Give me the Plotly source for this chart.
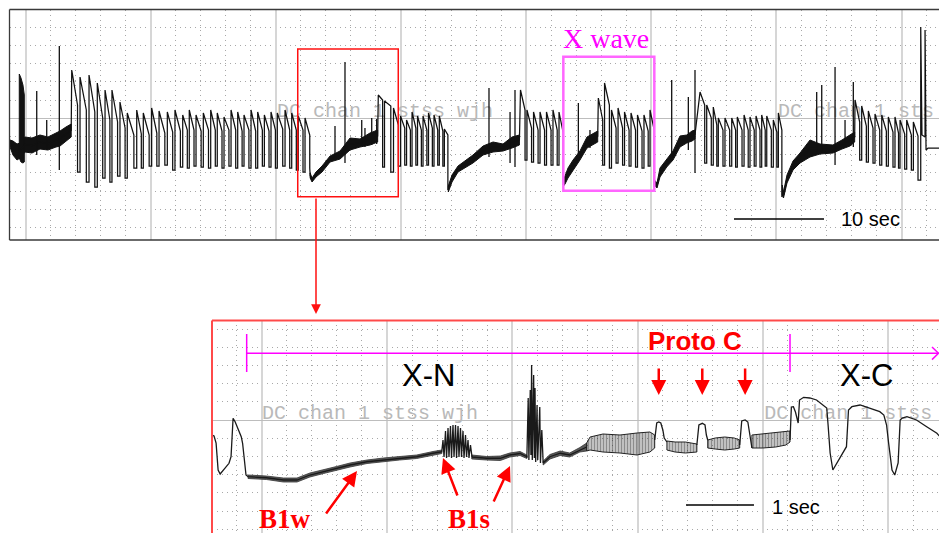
import plotly.graph_objects as go

# ============================ DATA ============================
# ---- Top recording: time in s, signal in V (arbitrary offset) ----
# Noisy (thick) stretches, given as signal envelope
nA_t  = [0.0, 0.33, 0.78, 1.11, 1.67, 2.44, 3.33, 4.22, 5.11, 5.56, 6.22, 6.8]
nA_hi = [1.0, 0.9, 0.6, 0.7, 1.3, 1.2, 1.5, 1.3, 1.7, 1.9, 2.3, 2.6]
nA_lo = [0.3, -0.5, -1.0, -0.8, -0.2, -0.3, 0.1, 0.0, 0.3, 0.4, 0.9, 1.3]
nA2_t  = [1.03, 1.22, 1.44, 1.59]
nA2_hi = [7.6, 7.2, 6.5, 5.5]
nA2_lo = [-0.8, -1.2, -1.3, -1.2]
nB_t  = [33.35, 33.56, 34.0, 34.67, 35.56, 36.67, 37.78, 38.89, 40.0, 40.85]
nB_hi = [-2.3, -2.8, -2.2, -1.6, -0.6, -0.1, 1.2, 1.1, 1.7, 2.0]
nB_lo = [-2.8, -3.2, -2.7, -2.2, -1.2, -0.9, 0.0, 0.3, 0.5, 0.8]
nC_t  = [48.7, 49.11, 49.78, 50.56, 51.44, 52.56, 53.67, 54.78, 55.78, 56.6]
nC_hi = [-3.6, -2.5, -1.6, -1.1, -0.5, 0.4, 0.8, 0.6, 1.3, 1.5]
nC_lo = [-4.2, -3.2, -2.2, -1.8, -1.3, -0.5, -0.2, -0.1, 0.2, 0.5]
nD_t  = [61.5, 61.67, 62.0, 62.56, 63.33, 64.11, 64.78, 65.3]
nD_hi = [-3.0, -2.6, -1.8, -1.0, -0.1, 1.3, 1.6, 1.9]
nD_lo = [-3.6, -3.4, -2.8, -2.0, -1.0, 0.2, 0.5, 0.8]
nE_t  = [71.6, 71.89, 72.22, 72.97, 73.67, 74.44, 75.19, 75.78, 76.11]
nE_hi = [-3.0, -3.3, -1.8, -0.9, -0.1, 1.4, 1.5, 1.9, 2.0]
nE_lo = [-3.5, -3.8, -2.7, -1.7, -1.0, 0.3, 0.7, 0.9, 1.1]
nF_t  = [85.8, 85.94, 86.33, 87.0, 87.78, 88.89, 90.0, 91.44, 92.44, 93.33, 93.85]
nF_hi = [-3.5, -4.2, -2.5, -1.1, -0.3, 1.0, 0.6, 0.5, 1.0, 1.5, 1.8]
nF_lo = [-4.5, -4.8, -3.3, -2.0, -1.3, -0.7, -0.4, -0.3, 0.1, 0.4, 0.8]

# Sawtooth (X-wave) bursts: rise time, peak, shoulder before drop, trough
b1_t  = [6.86, 7.78, 8.78, 9.70, 10.56, 11.33, 12.22, 13.03, 14.08, 14.81, 15.74, 16.56, 17.48, 18.33, 19.19, 19.92, 20.67,
         21.48, 22.30, 23.03, 23.78, 24.56, 25.30, 26.00, 26.78, 27.52, 28.26, 29.00, 29.70, 30.56, 31.30, 32.03, 32.78]
b1_hi = [8.0, 7.3, 7.5, 6.7, 6.0, 6.0, 4.8, 3.7, 4.0, 3.7, 4.2, 3.9, 3.8, 4.0, 3.5, 4.0, 3.5, 3.7, 4.0, 3.7,
         3.3, 4.0, 3.8, 3.5, 4.0, 3.8, 3.5, 3.8, 3.7, 4.0, 3.7, 3.4, 3.2]
b1_sh = [4.5, 4.0, 3.8, 3.2, 3.0, 2.8, 2.2, 1.5, 1.6, 1.5, 1.7, 1.7, 1.8, 1.9, 2.0, 2.0, 1.9, 2.0, 2.0, 1.9,
         2.0, 2.0, 1.9, 2.0, 1.9, 2.0, 1.9, 2.0, 2.1, 2.0, 2.0, 2.0, 1.5]
b1_lo = [-2.2, -3.2, -3.7, -2.8, -3.2, -2.6, -2.8, -1.8, -1.8, -1.6, -1.6, -1.5, -2.0, -1.7, -1.8, -1.6, -1.7, -1.8, -1.6, -1.8,
         -1.6, -1.8, -1.6, -1.8, -1.8, -1.6, -1.7, -1.8, -1.6, -1.8, -2.0, -2.2, -1.8]
b2_t  = [40.92, 41.61, 42.61, 43.39, 44.06, 44.67, 45.28, 45.89, 46.5, 47.11, 47.7, 48.26]
b2_hi = [5.5, 4.9, 4.2, 3.4, 3.0, 3.8, 3.4, 3.4, 3.7, 3.5, 3.4, 2.1]
b2_sh = [5.0, 4.4, 2.5, 2.2, 2.0, 2.2, 2.0, 2.0, 2.2, 2.0, 1.9, 1.5]
b2_lo = [-1.7, -2.2, -1.6, -1.5, -1.6, -1.5, -1.6, -1.5, -1.6, -1.5, -1.6, -4.0]
b3_t  = [56.72, 57.44, 58.17, 58.89, 59.61, 60.33, 61.0]
b3_hi = [6.0, 4.0, 3.8, 3.8, 3.8, 4.0, 3.8]
b3_sh = [4.0, 2.2, 2.0, 2.0, 2.0, 2.0, 1.7]
b3_lo = [-1.0, -1.2, -1.3, -1.5, -1.5, -1.5, -3.5]
b4_t  = [65.37, 66.06, 66.83, 67.56, 68.28, 69.0, 69.72, 70.44, 71.11]
b4_hi = [5.2, 6.7, 4.0, 4.2, 3.8, 3.7, 3.5, 3.5, 4.0]
b4_sh = [3.0, 4.5, 2.2, 2.2, 2.0, 2.0, 1.9, 1.9, 2.0]
b4_lo = [-1.5, -1.8, -1.3, -1.5, -1.6, -1.7, -1.8, -1.6, -3.7]
b5_t  = [76.67, 77.41, 78.14, 78.7, 79.44, 80.19, 80.81, 81.56, 82.22, 82.89, 83.52, 84.08, 84.81, 85.37]
b5_hi = [5.8, 4.5, 4.3, 3.2, 3.2, 3.2, 3.3, 3.5, 3.3, 3.4, 3.5, 3.4, 3.0, 3.7]
b5_sh = [4.5, 3.2, 2.5, 2.0, 2.0, 2.0, 2.0, 2.0, 2.0, 2.0, 2.0, 2.0, 1.8, 2.0]
b5_lo = [-1.3, -1.5, -1.6, -1.6, -1.6, -1.7, -1.6, -1.7, -1.6, -1.7, -1.6, -1.7, -1.7, -4.7]
b6_t  = [93.89, 94.63, 95.37, 96.11, 96.86, 97.59, 98.33, 98.89, 99.63, 100.37]
b6_hi = [5.0, 4.4, 3.9, 3.6, 3.5, 3.3, 3.3, 3.0, 3.0, 2.8]
b6_sh = [2.8, 2.4, 2.2, 2.0, 1.9, 1.8, 1.7, 1.6, 1.5, 1.4]
b6_lo = [-1.0, -1.2, -1.3, -1.5, -1.6, -1.7, -1.8, -1.9, -2.0, -3.0]
tail_t = [101.19, 101.19, 101.33, 101.67, 101.67, 101.78, 102.0, 103.3]
tail_v = [-3.0, 12.3, 1.5, 1.3, 12.0, 0.0, 0.2, 0.2]

# Isolated spikes in the noisy stretches
spk_t  = [2.97, 4.08, 5.48, 36.11, 37.22, 39.08, 39.44, 40.19, 40.74, 53.22, 55.56, 56.11, 63.15, 64.44,
          73.52, 75.37, 76.11, 89.63, 90.19, 91.67, 92.78, 93.7]
spk_hi = [5.9, 3.0, 10.4, 2.4, 8.8, 3.0, 2.2, 3.2, 3.1, 6.2, 3.8, 6.0, 4.7, 2.0, 7.0, 5.3, 8.0, 5.8, 6.5, 8.3, 3.0, 6.8]
spk_lo = [-0.5, 0.0, -2.0, -0.6, -1.3, 0.5, 0.3, 0.5, 0.6, -0.7, -1.3, -1.7, -0.7, 0.2, -0.7, 0.0, -2.3, -0.3, -0.3, -1.5, 0.5, 0.3]

# ---- Bottom (expanded) recording ----
s0_t = [0, 0.03, 0.06, 0.09, 0.12, 0.17, 0.22, 0.25, 0.28, 0.30, 0.31, 0.34, 0.36, 0.40, 0.43, 0.45, 0.48, 0.5, 0.53]
s0_v = [3.5, 3.4, 2.7, 0.0, -0.4, 0.0, 0.33, 0.67, 1.33, 4.83, 5.17, 4.83, 4.5, 4.0, 3.33, 2.67, 1.0, -0.5, -0.67]
bw_t  = [0.53, 0.80, 1.05, 1.25, 1.44, 1.64, 1.83, 2.03, 2.28, 2.52, 2.76, 3.01, 3.25, 3.38]
bw_hi = [-0.5, -0.6, -0.8, -0.8, -0.3, 0.0, 0.35, 0.7, 1.0, 1.2, 1.35, 1.5, 1.85, 2.0]
bw_lo = [-0.85, -0.95, -1.2, -1.2, -0.7, -0.35, 0.0, 0.3, 0.65, 0.8, 1.0, 1.15, 1.5, 1.65]
bs_t = [3.378, 3.397, 3.412, 3.434, 3.449, 3.471, 3.485, 3.507, 3.522, 3.544, 3.559, 3.581, 3.596,
        3.618, 3.632, 3.654, 3.669, 3.691, 3.706, 3.728, 3.743, 3.765, 3.779, 3.801, 3.824]
bs_v = [1.8, 3.0, 1.3, 3.9, 1.2, 4.2, 1.3, 4.4, 1.2, 4.5, 1.3, 4.5, 1.2, 4.4, 1.3, 4.2, 1.3, 3.9, 1.2, 3.5,
        1.3, 3.0, 1.2, 2.5, 1.3]
r2_t  = [3.82, 4.04, 4.24, 4.38, 4.53, 4.63]
r2_hi = [1.5, 1.35, 1.4, 1.7, 1.85, 1.5]
r2_lo = [1.1, 1.0, 0.95, 1.3, 1.45, 1.15]
pk_t = [4.63, 4.65, 4.66, 4.68, 4.69, 4.70, 4.71, 4.73, 4.74, 4.75, 4.76, 4.78, 4.79, 4.82, 4.83, 4.85, 4.87]
pk_v = [1.2, 7.2, 1.0, 8.0, 1.5, 10.5, 1.0, 9.5, 1.2, 8.2, 0.8, 6.5, 1.0, 6.3, 0.7, 4.0, 0.7]
r3_t  = [4.87, 4.97, 5.12, 5.26, 5.41, 5.51]
r3_hi = [0.9, 1.55, 1.9, 1.7, 2.25, 2.7]
r3_lo = [0.5, 1.1, 1.45, 1.3, 1.8, 1.9]
r4_t  = [5.51, 5.56, 5.75, 6.0, 6.25, 6.44, 6.51]
r4_hi = [2.7, 3.3, 3.6, 3.5, 3.7, 3.8, 3.5]
r4_lo = [1.9, 2.0, 1.8, 1.7, 1.5, 1.8, 2.2]
c1_t = [6.51, 6.54, 6.57, 6.60, 6.63, 6.65, 6.69]
c1_v = [3.0, 4.7, 4.8, 4.7, 4.0, 3.2, 2.8]
r5_t  = [6.69, 6.81, 6.96, 7.13]
r5_hi = [2.9, 2.8, 2.8, 2.6]
r5_lo = [2.0, 1.8, 1.7, 1.8]
c2_t = [7.13, 7.16, 7.21, 7.25, 7.27, 7.29]
c2_v = [2.5, 4.5, 4.67, 4.5, 3.5, 3.0]
r6_t  = [7.29, 7.40, 7.54, 7.68, 7.76]
r6_hi = [3.0, 3.2, 3.3, 3.2, 3.0]
r6_lo = [2.2, 2.1, 2.0, 2.1, 2.2]
c3_t = [7.76, 7.79, 7.84, 7.88, 7.91, 7.94]
c3_v = [2.5, 4.9, 5.0, 4.8, 3.5, 2.2]
r7_t  = [7.94, 8.10, 8.29, 8.44, 8.5]
r7_hi = [3.5, 3.6, 3.7, 3.8, 3.9]
r7_lo = [2.2, 2.2, 2.3, 2.5, 2.8]
xc_t = [8.5, 8.52, 8.55, 8.58, 8.62, 8.64, 8.70, 8.79, 8.89, 8.99, 9.04, 9.06, 9.09, 9.13, 9.19, 9.26, 9.33, 9.36,
        9.41, 9.53, 9.68, 9.82, 9.88, 9.92, 9.95, 10.0, 10.04, 10.09, 10.12, 10.15, 10.22, 10.36, 10.51, 10.66, 10.71]
xc_v = [3.0, 6.3, 6.33, 5.8, 4.7, 7.0, 7.27, 7.2, 7.0, 6.5, 6.2, 4.5, 1.7, 0.0, 0.7, 1.4, 2.33, 6.0, 6.33, 6.5,
        6.17, 5.83, 5.5, 4.5, 2.7, 0.0, -0.5, 0.7, 5.0, 5.2, 5.33, 5.0, 4.33, 3.67, 3.3]

# Phase labels / timeline (bottom panel, s)
phase_names = ["X-N", "X-C"]
phase_start = [0.51, 8.5]
protoC_t = [6.57, 7.21, 7.84]
top_scale_s = 10
bot_scale_s = 1
wm_top = ['DC chan 1 stss wjh', 'DC chan 1 sts']
wm_bot = ['DC chan 1 stss wjh', 'DC chan 1 stss']

# ============================ FIGURE ============================
W, H = 939, 533
def px(x): return x / W
def py(y): return 1 - y / H

TOP_T_END = 103.22
BOT_T_END = 10.691

fig = go.Figure()
X1, Y1, X2, Y2 = 'x', 'y', 'x2', 'y2'

def add(tr): fig.add_trace(tr)

# watermark channel labels (drawn under the traces)
wm_font = dict(family='Liberation Mono', size=20, color='#b9b9b9')
add(go.Scatter(x=[29.67, 85.33], y=[3.8, 3.8], mode='text', text=wm_top,
               textposition='middle right', textfont=wm_font, xaxis=X1, yaxis=Y1, hoverinfo='skip'))
add(go.Scatter(x=[0.735, 8.12], y=[5.6, 5.6], mode='text', text=wm_bot,
               textposition='middle right', textfont=wm_font, xaxis=X2, yaxis=Y2, hoverinfo='skip'))

def band(t, hi, lo, xa, ya, fill='black', edge='black', ew=1.0, pattern=None):
    xs = list(t) + list(t)[::-1] + [t[0]]
    ys = list(hi) + list(lo)[::-1] + [hi[0]]
    kw = dict(x=xs, y=ys, mode='lines', fill='toself', fillcolor=fill,
              line=dict(color=edge, width=ew), xaxis=xa, yaxis=ya, hoverinfo='skip')
    if pattern:
        kw['fillpattern'] = pattern
    add(go.Scatter(**kw))

def mid(hi, lo):
    return [(a + b) / 2 for a, b in zip(hi, lo)]

def burst(t, hi, sh, lo, duty=0.7):
    xs, ys = [], []
    n = len(t)
    for i in range(n):
        P = (t[i + 1] - t[i]) if i < n - 1 else (t[i] - t[i - 1])
        if i > 0:
            xs.append(t[i]); ys.append(lo[i - 1])
        d = t[i] + duty * P
        xs += [t[i], d, d]
        ys += [hi[i], sh[i], lo[i]]
    return xs, ys

# ---- top trace ----
for (t, hi, lo) in [(nA_t, nA_hi, nA_lo), (nA2_t, nA2_hi, nA2_lo), (nB_t, nB_hi, nB_lo), (nC_t, nC_hi, nC_lo),
                    (nD_t, nD_hi, nD_lo), (nE_t, nE_hi, nE_lo), (nF_t, nF_hi, nF_lo)]:
    band(t, hi, lo, X1, Y1, fill='#111111', edge='#111111', ew=1.0)

tx, ty = [], []
seq = [('n', nA_t, nA_hi, nA_lo), ('b', b1_t, b1_hi, b1_sh, b1_lo), ('n', nB_t, nB_hi, nB_lo),
       ('b', b2_t, b2_hi, b2_sh, b2_lo), ('n', nC_t, nC_hi, nC_lo), ('b', b3_t, b3_hi, b3_sh, b3_lo),
       ('n', nD_t, nD_hi, nD_lo), ('b', b4_t, b4_hi, b4_sh, b4_lo), ('n', nE_t, nE_hi, nE_lo),
       ('b', b5_t, b5_hi, b5_sh, b5_lo), ('n', nF_t, nF_hi, nF_lo), ('b', b6_t, b6_hi, b6_sh, b6_lo)]
for s in seq:
    if s[0] == 'n':
        tx += list(s[1]); ty += mid(s[2], s[3])
    else:
        bx, by = burst(*s[1:])
        tx += bx; ty += by
tx += tail_t; ty += tail_v
add(go.Scatter(x=tx, y=ty, mode='lines', line=dict(color='#111111', width=1.25), xaxis=X1, yaxis=Y1, hoverinfo='skip'))

sx, sy = [], []
for t, h, l in zip(spk_t, spk_hi, spk_lo):
    sx += [t, t, None]; sy += [l, h, None]
add(go.Scatter(x=sx, y=sy, mode='lines', line=dict(color='#111111', width=1.3), xaxis=X1, yaxis=Y1, hoverinfo='skip'))

# top scale bar
add(go.Scatter(x=[80.44, 80.44 + top_scale_s], y=[-6.9, -6.9], mode='lines', line=dict(color='black', width=1.5),
               xaxis=X1, yaxis=Y1, hoverinfo='skip'))

# ---- bottom trace ----
band(bw_t, bw_hi, bw_lo, X2, Y2, fill='#5a5a5a', edge='#333333', ew=0.8)
band(r2_t, r2_hi, r2_lo, X2, Y2, fill='#5a5a5a', edge='#333333', ew=0.8)
band(r3_t, r3_hi, r3_lo, X2, Y2, fill='#5a5a5a', edge='#333333', ew=0.8)
pat = dict(shape='|', size=3, solidity=0.7, fgcolor='#1a1a1a', bgcolor='rgba(255,255,255,0)')
for (t, hi, lo) in [(r4_t, r4_hi, r4_lo), (r5_t, r5_hi, r5_lo), (r6_t, r6_hi, r6_lo), (r7_t, r7_hi, r7_lo)]:
    band(t, hi, lo, X2, Y2, fill='rgba(255,255,255,0)', edge='#222222', ew=1.0, pattern=pat)

bx = s0_t + bw_t + bs_t + r2_t + pk_t + r3_t + [None] + c1_t + [None] + c2_t + [None] + c3_t + [None] + xc_t
by = s0_v + mid(bw_hi, bw_lo) + bs_v + mid(r2_hi, r2_lo) + pk_v + mid(r3_hi, r3_lo) + [None] + c1_v + [None] + c2_v + [None] + c3_v + [None] + xc_v
add(go.Scatter(x=bx, y=by, mode='lines', line=dict(color='#1a1a1a', width=1.3), xaxis=X2, yaxis=Y2, hoverinfo='skip'))

# bottom scale bar
add(go.Scatter(x=[6.97, 6.97 + bot_scale_s], y=[-3.5, -3.5], mode='lines', line=dict(color='black', width=1.5),
               xaxis=X2, yaxis=Y2, hoverinfo='skip'))

# ---- axes ----
grid_major = '#d6d6d6'
grid_minor = '#a8a8a8'
dot = '1px,4px'
noax = dict(showticklabels=False, ticks='', zeroline=False, showline=False, fixedrange=True)
fig.update_layout(
    width=W, height=H, margin=dict(l=0, r=0, t=0, b=0),
    paper_bgcolor='white', plot_bgcolor='white', showlegend=False,
    xaxis=dict(domain=[px(10), 1], range=[0, TOP_T_END], anchor='y', showgrid=True, gridcolor=grid_major, gridwidth=2,
               tick0=1.722, dtick=13.906,
               minor=dict(tick0=1.722, dtick=2.781, showgrid=True, gridcolor=grid_minor, griddash=dot, gridwidth=1), **noax),
    yaxis=dict(domain=[py(240), py(10)], range=[-9.0, 14.0], anchor='x', showgrid=True, gridcolor='#bdbdbd', gridwidth=1,
               tick0=3.17, dtick=100,
               minor=dict(tick0=3.17, dtick=1.82, showgrid=True, gridcolor=grid_minor, griddash=dot, gridwidth=1), **noax),
    xaxis2=dict(domain=[px(212), 1], range=[0, BOT_T_END], anchor='y2', showgrid=True, gridcolor=grid_major, gridwidth=2,
                tick0=0.731, dtick=1.8426,
                minor=dict(tick0=0.731, dtick=0.3685, showgrid=True, gridcolor=grid_minor, griddash=dot, gridwidth=1), **noax),
    yaxis2=dict(domain=[0, py(320)], range=[-6.3, 15.0], anchor='x2', showgrid=True, gridcolor='#bdbdbd', gridwidth=1,
                tick0=5.0, dtick=100,
                minor=dict(tick0=5.0, dtick=1.82, showgrid=True, gridcolor=grid_minor, griddash=dot, gridwidth=1), **noax),
)

# ---- shapes ----
shapes = []
def pline(x0, y0, x1, y1, color, width):
    shapes.append(dict(type='line', xref='paper', yref='paper', x0=px(x0), y0=py(y0), x1=px(x1), y1=py(y1),
                       line=dict(color=color, width=width)))
# top panel frame (left, top, bottom)
pline(9.5, 9.5, 9.5, 240, '#3a3a3a', 1.3)
pline(9.5, 9.5, 939, 9.5, '#3a3a3a', 1.3)
pline(9.5, 240, 939, 240, '#3a3a3a', 1.3)
# bottom panel frame
pline(212, 320.5, 212, 533, '#ff4a4a', 2)
pline(212, 320.5, 939, 320.5, '#ff4a4a', 2)
# red selection box and magenta X-wave box (top data coordinates)
shapes.append(dict(type='rect', xref='x', yref='y', x0=31.97, x1=43.14, y0=-4.67, y1=10.1,
                   line=dict(color='#ff1010', width=1.5)))
shapes.append(dict(type='rect', xref='x', yref='y', x0=61.48, x1=71.59, y0=-4.07, y1=9.33,
                   line=dict(color='#ff66ff', width=2.5)))
# magenta phase timeline (bottom data x)
mag = '#ff00ff'
tl_y, tick_top, tick_bot = 11.67, 13.6, 9.8
shapes.append(dict(type='line', xref='x2', yref='y2', x0=phase_start[0], x1=BOT_T_END, y0=tl_y, y1=tl_y, line=dict(color=mag, width=1.5)))
for ps in phase_start:
    shapes.append(dict(type='line', xref='x2', yref='y2', x0=ps, x1=ps, y0=tick_bot, y1=tick_top, line=dict(color=mag, width=1.5)))
pline(932, 347, 938.5, 353.3, mag, 1.5)
pline(932, 359.6, 938.5, 353.3, mag, 1.5)
fig.update_layout(shapes=shapes)

# ---- annotations ----
ann = []
def label(x, y, text, size, color, family, xanchor='center'):
    ann.append(dict(x=px(x), y=py(y), xref='paper', yref='paper', text=text, showarrow=False,
                    font=dict(size=size, color=color, family=family), xanchor=xanchor, yanchor='middle'))
def arrow(xt, yt, xs, ys, color, width, size, head=2):
    ann.append(dict(x=px(xt), y=py(yt), xref='paper', yref='paper', ax=xs - xt, ay=ys - yt, text='',
                    showarrow=True, arrowhead=head, arrowsize=size, arrowwidth=width, arrowcolor=color,
                    standoff=0, startstandoff=0))

label(606, 39, 'X wave', 28, mag, 'Liberation Serif')
label(839, 219, '10 sec', 20, 'black', 'Liberation Sans', xanchor='left')
label(770, 507, '1 sec', 20, 'black', 'Liberation Sans', xanchor='left')
label(428, 375, phase_names[0], 31, 'black', 'Liberation Sans')
label(866, 375, phase_names[1], 31, 'black', 'Liberation Sans')
label(695, 341, '<b>Proto C</b>', 26, '#ff0000', 'Liberation Sans')
label(285, 519, '<b>B1w</b>', 27, '#ff0000', 'Liberation Serif')
label(469, 519, '<b>B1s</b>', 27, '#ff0000', 'Liberation Serif')

# connector from selection box to expanded panel
arrow(316, 314, 316, 197, '#ff1010', 1.5, 1.3)
# Proto C markers
for t in protoC_t:
    xpix = 212 + t * 68
    arrow(xpix, 395, xpix, 367, '#ff0000', 2.5, 1.2)
# B1 arrows
arrow(357, 471, 325, 515, '#ff0000', 2.5, 1.2)
arrow(443, 458, 458, 497, '#ff0000', 2.5, 1.2)
arrow(510, 466, 493, 503, '#ff0000', 2.5, 1.2)
fig.update_layout(annotations=ann)

fig.write_html('out.html', config={'displayModeBar': False, 'staticPlot': True},
               post_script="document.body.style.margin='0px';document.body.style.overflow='hidden';")
